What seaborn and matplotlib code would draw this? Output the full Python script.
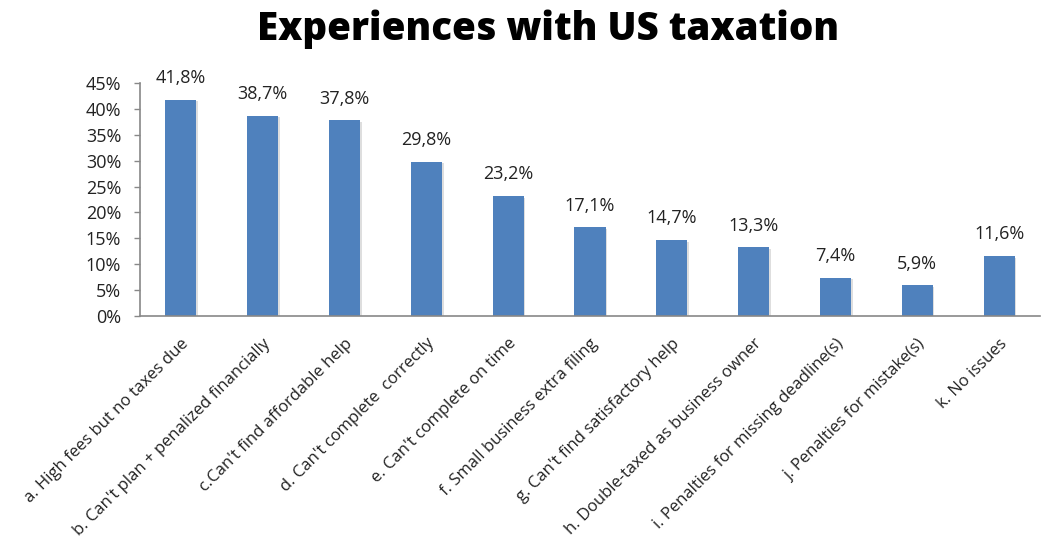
import matplotlib
matplotlib.use("Agg")
import matplotlib.pyplot as plt
import matplotlib.patheffects as pe
from matplotlib.ticker import FixedLocator
import seaborn as sns
import pandas as pd

categories = [
    "a. High fees but no taxes due",
    "b. Can't plan + penalized financially",
    "c.Can't find affordable help",
    "d. Can't complete  correctly",
    "e. Can't complete on time",
    "f. Small business extra filing",
    "g. Can't find satisfactory help",
    "h. Double-taxed as business owner",
    "i. Penalties for missing deadline(s)",
    "j. Penalties for mistake(s)",
    "k. No issues",
]
values = [41.8, 38.7, 37.8, 29.8, 23.2, 17.1, 14.7, 13.3, 7.4, 5.9, 11.6]
y_ticks = [0, 5, 10, 15, 20, 25, 30, 35, 40, 45]
title = "Experiences with US taxation"

df = pd.DataFrame({"category": categories, "value": values})

sns.set_theme(style="white")
plt.rcParams["font.family"] = ["Open Sans", "DejaVu Sans"]

fig = plt.figure(figsize=(10.42, 5.5), dpi=100)
ax = fig.add_axes([140 / 1042, 1 - 316 / 550, 900 / 1042, (316 - 83) / 550])

bar_color = "#4F81BD"
sns.barplot(data=df, x="category", y="value", color=bar_color, width=0.38,
            saturation=1, ax=ax, edgecolor="none")

for p in ax.patches:
    p.set_path_effects([pe.SimplePatchShadow(offset=(1.2, -1.2), shadow_rgbFace="#c8c8c8", alpha=0.6),
                        pe.Normal()])

for i, v in enumerate(values):
    ax.annotate(f"{v:.1f}%".replace(".", ","), xy=(i, v), xytext=(0, 9),
                textcoords="offset points", ha="center", va="bottom",
                fontsize=13, color="#222222")

ax.set_xlim(-0.5, len(categories) - 0.5)
ax.set_ylim(0, 45)
ax.set_yticks(y_ticks)
ax.set_yticklabels([f"{t}%" for t in y_ticks], fontsize=13, color="#222222")
ax.set_xlabel("")
ax.set_ylabel("")

# category labels at bar centers, tick marks on category boundaries
ax.set_xticks(range(len(categories)))
ax.set_xticklabels(categories, rotation=45, ha="right", rotation_mode="anchor",
                   fontsize=12, color="#222222")
ax.tick_params(axis="x", which="major", length=0, pad=14)
ax.xaxis.set_minor_locator(FixedLocator([k - 0.5 for k in range(len(categories) + 1)]))
ax.tick_params(axis="x", which="minor", length=5, color="#888888", width=1, direction="out")
ax.tick_params(axis="y", length=4.5, color="#888888", width=1, direction="out", pad=9, left=True)

for side in ["top", "right"]:
    ax.spines[side].set_visible(False)
for side in ["left", "bottom"]:
    ax.spines[side].set_color("#888888")
    ax.spines[side].set_linewidth(1.2)

fig.text(548 / 1042, 1 - 29 / 550, title, ha="center", va="center",
         fontsize=27.7, fontweight="heavy", color="black")

fig.savefig("out.png", dpi=100)
